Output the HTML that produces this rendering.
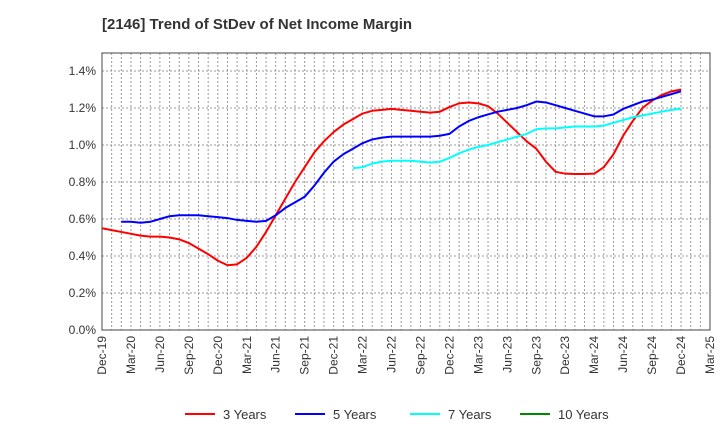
<!DOCTYPE html>
<html><head><meta charset="utf-8"><style>
body{margin:0;background:#fff;font-family:"Liberation Sans",sans-serif}
</style></head><body>
<svg id="c" width="720" height="440" xmlns="http://www.w3.org/2000/svg">
<text x="102" y="29" font-size="15" font-weight="bold" fill="#333">[2146]  Trend of StDev of Net Income Margin</text>
</svg>
<script>
const xLabels=["Dec-19","Mar-20","Jun-20","Sep-20","Dec-20","Mar-21","Jun-21","Sep-21","Dec-21","Mar-22","Jun-22","Sep-22","Dec-22","Mar-23","Jun-23","Sep-23","Dec-23","Mar-24","Jun-24","Sep-24","Dec-24","Mar-25"];
const yTicks=[0,0.2,0.4,0.6,0.8,1.0,1.2,1.4];
const red=[.55,.54,.53,.52,.51,.505,.505,.50,.49,.47,.44,.41,.375,.35,.355,.39,.45,.53,.62,.71,.80,.88,.96,1.02,1.07,1.11,1.14,1.17,1.185,1.19,1.195,1.19,1.185,1.18,1.175,1.18,1.205,1.225,1.23,1.225,1.21,1.17,1.12,1.07,1.02,.98,.91,.855,.845,.843,.843,.845,.88,.95,1.05,1.13,1.20,1.24,1.27,1.29,1.30];
const blue=[.585,.585,.58,.585,.60,.615,.62,.62,.62,.615,.61,.605,.595,.59,.585,.59,.62,.66,.69,.72,.78,.85,.91,.95,.98,1.01,1.03,1.04,1.045,1.045,1.045,1.045,1.045,1.05,1.06,1.10,1.13,1.15,1.165,1.18,1.19,1.20,1.215,1.235,1.23,1.215,1.20,1.185,1.17,1.155,1.155,1.165,1.195,1.215,1.235,1.245,1.26,1.275,1.29];
const blueStart=2;
const cyan=[.875,.88,.90,.91,.915,.915,.915,.91,.905,.91,.93,.955,.975,.99,1.00,1.015,1.03,1.045,1.06,1.085,1.09,1.09,1.095,1.10,1.10,1.10,1.105,1.12,1.135,1.15,1.16,1.17,1.18,1.19,1.195];
const cyanStart=26;
const L=102,R=710,T=53,B=330,NM=63;
const ns="http://www.w3.org/2000/svg",svg=document.getElementById('c');
const X=i=>L+i*(R-L)/NM;
function Yv(v){return B-v*(B-71)/1.4;}
function mk(t,a,p){const e=document.createElementNS(ns,t);for(const k in a)e.setAttribute(k,a[k]);(p||svg).appendChild(e);return e;}
for(let m=1;m<NM;m++){const l=mk('line',{x1:X(m),x2:X(m),y1:T,y2:B,stroke:'#999','stroke-dasharray':'2,2','stroke-width':1});

}
yTicks.forEach(v=>{if(v>0){const l=mk('line',{x1:L,x2:R,y1:Yv(v),y2:Yv(v),stroke:'#999','stroke-dasharray':'2,2'});

}
const t=mk('text',{x:L-6,y:Yv(v)+4,'text-anchor':'end','font-size':12,fill:'#333'});t.textContent=v.toFixed(1)+'%';

});
const f=mk('rect',{x:L,y:T,width:R-L,height:B-T,fill:'none',stroke:'#444'});


xLabels.forEach((s,i)=>{const x=X(i*3);const t=mk('text',{transform:`translate(${x+4},${B+6}) rotate(-90)`,'text-anchor':'end','font-size':12,fill:'#333'});t.textContent=s;

});
function series(arr,start,col,name){const p=mk('polyline',{points:arr.map((v,i)=>X(i+start)+','+Yv(v)).join(' '),fill:'none',stroke:col,'stroke-width':2,'stroke-linejoin':'round'});

}
series(red,0,'#f00','line-3-years');series(blue,blueStart,'#00f','line-5-years');series(cyan,cyanStart,'#0ff','line-7-years');
[['3 Years','#f00',185],['5 Years','#00f',295],['7 Years','#0ff',410],['10 Years','#080',520]].forEach(([s,c,x])=>{
const g=mk('g',{});


mk('line',{x1:x,x2:x+30,y1:414,y2:414,stroke:c,'stroke-width':2},g);
const t=mk('text',{x:x+38,y:419,'font-size':13,fill:'#333'},g);t.textContent=s;});
</script>
</body></html>
